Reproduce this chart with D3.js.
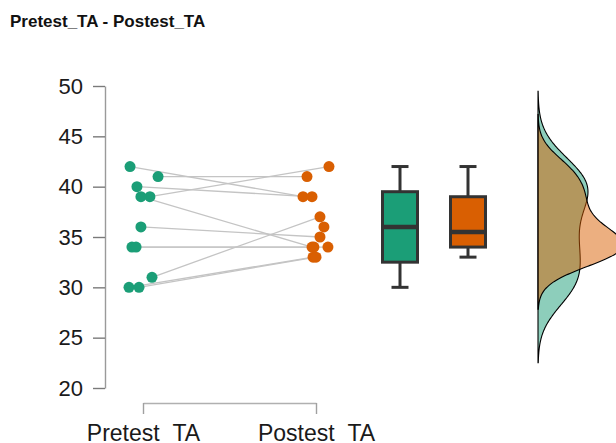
<!DOCTYPE html>
<html>
<head>
<meta charset="utf-8">
<script src="https://cdn.jsdelivr.net/npm/d3@7"></script>
<style>
  body { margin: 0; background: #fff; }
  svg { display: block; }
</style>
</head>
<body>
<div id="chart"></div>
<script>
// chart data
const title = "Pretest_TA - Postest_TA";
const groups = ["Pretest_TA", "Postest_TA"];
const colors = ["#1b9e77", "#d95f02"];

// paired scores, one entry per subject (null = missing)
const pretest  = [42, 41, 40, 39, 39, 36, 34, 34, 31, 30, 30, null];
const postest  = [39, 41, 39, 42, 34, 35, 34, 34, 37, 33, 33, 36];
// horizontal jitter, as a fraction of the step between groups
const jitterPre  = [-0.075, 0.087, -0.035, 0.040, -0.012, -0.012, -0.064, -0.040, 0.052, -0.081, -0.023, 0];
const jitterPost = [-0.075, -0.052, -0.023, 0.075, -0.023, 0.023, -0.012, 0.069, 0.023, -0.017, 0.000, 0.046];

const yTicks = [20, 25, 30, 35, 40, 45, 50];

const W = 616, H = 443;

const svg = d3.select("#chart").append("svg")
    .attr("width", W)
    .attr("height", H)
    .style("font-family", "'DejaVu Sans', sans-serif");

// scales
const y = d3.scaleLinear().domain([20, 50]).range([388, 86]);
const x = d3.scalePoint().domain(groups).range([143, 316]);
const step = x(groups[1]) - x(groups[0]);
const boxX = d3.scalePoint().domain(groups).range([400, 468]);
const boxW = 35;
const densX0 = 538;

// title
svg.append("text")
    .attr("x", 10)
    .attr("y", 27)
    .style("font-family", "'Liberation Sans', Arial, sans-serif")
    .style("font-weight", "bold")
    .style("font-size", "17px")
    .attr("fill", "#111")
    .text(title);

// y axis
const yAxis = svg.append("g")
    .attr("transform", "translate(105,0)")
    .call(d3.axisLeft(y).tickValues(yTicks).tickSize(12).tickPadding(10).tickSizeOuter(0));
yAxis.select(".domain").attr("stroke", "#9a9a9a").attr("stroke-width", 1.4);
yAxis.selectAll(".tick line").attr("stroke", "#7a7a7a").attr("stroke-width", 1.4);
yAxis.selectAll(".tick text")
    .style("font-size", "22px")
    .attr("fill", "#1a1a1a");

// x axis (labels sit on the bottom edge, underscore falls outside, as in the reference)
const xAxis = svg.append("g")
    .attr("transform", "translate(0,403)")
    .call(d3.axisBottom(x).tickSize(11).tickPadding(10.5).tickSizeOuter(0));
xAxis.select(".domain").attr("stroke", "#b0b0b0").attr("stroke-width", 1.4);
xAxis.selectAll(".tick line").attr("stroke", "#a0a0a0").attr("stroke-width", 1.4);
xAxis.selectAll(".tick text")
    .style("font-size", "23px")
    .attr("fill", "#1a1a1a");

// subjects
const subjects = pretest.map((d, i) => ({
    pre: d, post: postest[i],
    xPre: x(groups[0]) + jitterPre[i] * step,
    xPost: x(groups[1]) + jitterPost[i] * step
}));

// connecting lines
svg.append("g").selectAll("line")
    .data(subjects.filter(d => d.pre != null && d.post != null))
    .enter()
    .append("line")
    .attr("x1", d => d.xPre)
    .attr("y1", d => y(d.pre))
    .attr("x2", d => d.xPost)
    .attr("y2", d => y(d.post))
    .attr("stroke", "#c4c4c4")
    .attr("stroke-width", 1.3);

// points
const pts = svg.append("g");
pts.selectAll(".pre")
    .data(subjects.filter(d => d.pre != null))
    .enter()
    .append("circle")
    .attr("cx", d => d.xPre)
    .attr("cy", d => y(d.pre))
    .attr("r", 5.5)
    .attr("fill", colors[0]);
pts.selectAll(".post")
    .data(subjects.filter(d => d.post != null))
    .enter()
    .append("circle")
    .attr("cx", d => d.xPost)
    .attr("cy", d => y(d.post))
    .attr("r", 5.5)
    .attr("fill", colors[1]);

// box plots
const series = [pretest, postest].map(v => v.filter(d => d != null).sort(d3.ascending));

series.forEach(function(vals, i) {
    let cx = boxX(groups[i]);
    let q1 = d3.quantile(vals, 0.25),
        med = d3.quantile(vals, 0.5),
        q3 = d3.quantile(vals, 0.75),
        iqr = q3 - q1;
    let lo = d3.min(vals.filter(d => d >= q1 - 1.5 * iqr)),
        hi = d3.max(vals.filter(d => d <= q3 + 1.5 * iqr));
    let g = svg.append("g");
    let stroke = "#333";

    g.append("line").attr("x1", cx).attr("x2", cx).attr("y1", y(hi)).attr("y2", y(q3))
        .attr("stroke", stroke).attr("stroke-width", 3);
    g.append("line").attr("x1", cx).attr("x2", cx).attr("y1", y(q1)).attr("y2", y(lo))
        .attr("stroke", stroke).attr("stroke-width", 3);
    [hi, lo].forEach(v => {
        g.append("line").attr("x1", cx - 8.5).attr("x2", cx + 8.5).attr("y1", y(v)).attr("y2", y(v))
            .attr("stroke", stroke).attr("stroke-width", 3);
    });
    g.append("rect")
        .attr("x", cx - boxW / 2)
        .attr("y", y(q3))
        .attr("width", boxW)
        .attr("height", y(q1) - y(q3))
        .attr("fill", colors[i])
        .attr("stroke", stroke)
        .attr("stroke-width", 3);
    g.append("line").attr("x1", cx - boxW / 2).attr("x2", cx + boxW / 2).attr("y1", y(med)).attr("y2", y(med))
        .attr("stroke", stroke).attr("stroke-width", 4.5);
});

// densities (gaussian kernel, silverman bandwidth, cut = 3 bw)
function bwNrd0(v) {
    let sd = d3.deviation(v);
    let iqr = d3.quantile(v, 0.75) - d3.quantile(v, 0.25);
    return 0.9 * Math.min(sd, iqr / 1.34) * Math.pow(v.length, -0.2);
}
function kde(v) {
    let h = bwNrd0(v);
    let lo = d3.min(v) - 3 * h, hi = d3.max(v) + 3 * h;
    let n = 200, out = [];
    for (let k = 0; k <= n; k++) {
        let t = lo + (hi - lo) * k / n;
        let s = d3.sum(v, d => Math.exp(-0.5 * ((t - d) / h) ** 2)) / (Math.sqrt(2 * Math.PI) * h * v.length);
        out.push([t, s]);
    }
    return out;
}
const dens = series.map(kde);
const w = d3.scaleLinear()
    .domain([0, d3.max(dens[0], d => d[1])])
    .range([0, 50]);

const area = d3.area()
    .curve(d3.curveBasis)
    .y(d => y(d[0]))
    .x0(densX0)
    .x1(d => densX0 + w(d[1]));

dens.forEach(function(d, i) {
    svg.append("path")
        .datum(d)
        .attr("d", area)
        .attr("fill", colors[i])
        .attr("fill-opacity", 0.5)
        .attr("stroke", "#000")
        .attr("stroke-width", 1.1);
});
</script>
</body>
</html>
